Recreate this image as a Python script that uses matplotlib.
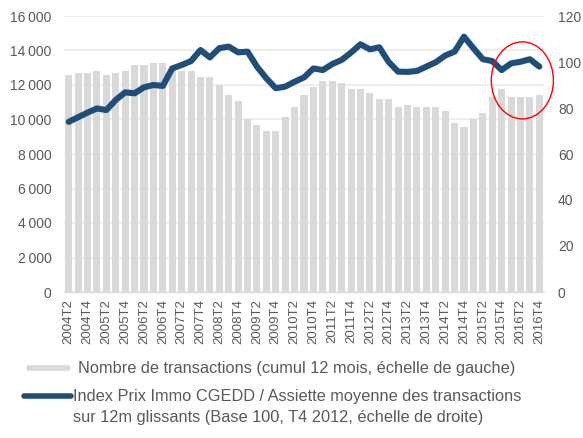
import matplotlib
matplotlib.use("Agg")
import matplotlib.pyplot as plt
from matplotlib.lines import Line2D
from matplotlib.patches import Ellipse

plt.rcParams['font.family'] = ['Liberation Sans', 'DejaVu Sans']

# quarters 2004T2 .. 2016T4
quarters = []
for yr in range(2004, 2017):
    for q in range(1, 5):
        if yr == 2004 and q == 1:
            continue
        quarters.append(f"{yr}T{q}")

# number of transactions (rolling 12 months, left axis)
transactions = [12600, 12700, 12700, 12800, 12600, 12700, 12800, 13150, 13150, 13280,
                13280, 13100, 12800, 12800, 12450, 12450, 12000, 11420, 11070, 10030,
                9680, 9330, 9330, 10140, 10720, 11420, 11880, 12230, 12230, 12120,
                11770, 11770, 11540, 11190, 11190, 10720, 10840, 10720, 10720, 10720,
                10490, 9800, 9570, 10030, 10380, 11300, 11770, 11300, 11300, 11300,
                11420]

# price index / mean transaction base (base 100 = T4 2012, right axis)
index_values = [74.0, 76.0, 78.0, 79.8, 79.1, 83.5, 86.8, 86.4, 89.0, 90.0,
                89.6, 97.2, 98.7, 100.4, 105.2, 102.0, 106.0, 106.7, 104.2, 104.5,
                98.0, 92.9, 88.6, 89.3, 91.4, 93.3, 97.2, 96.5, 99.1, 100.9,
                104.1, 107.7, 105.5, 106.4, 100.0, 95.8, 95.7, 96.1, 98.0, 99.9,
                102.8, 104.5, 111.0, 106.0, 101.2, 100.4, 96.5, 99.4, 100.1, 101.2,
                98.0]

left_ticks = [0, 2000, 4000, 6000, 8000, 10000, 12000, 14000, 16000]
right_ticks = [0, 20, 40, 60, 80, 100, 120]

bar_label = "Nombre de transactions (cumul 12 mois, échelle de gauche)"
line_label = ("Index Prix Immo CGEDD / Assiette moyenne des transactions\n"
              "sur 12m glissants (Base 100, T4 2012, échelle de droite)")

bar_color = '#d9d9d9'
line_color = '#1f4e79'
text_color = '#595959'

W, H = 583, 438
fig = plt.figure(figsize=(W / 100, H / 100), dpi=100)
ax = fig.add_axes([64 / W, 1 - 292 / H, 480 / W, 276 / H])
ax2 = ax.twinx()

x = list(range(len(quarters)))
ax.bar(x, transactions, width=0.75, color=bar_color, zorder=2)
ax.set_xlim(-0.5, len(quarters) - 0.5)
ax.set_ylim(0, 16000)
ax.set_yticks(left_ticks)
ax.set_yticklabels([f"{v:,}".replace(",", "\u2009") for v in left_ticks])
ax.yaxis.grid(True, color='#ebebeb', linewidth=1.2, zorder=0)
ax.set_axisbelow(True)
ax.set_xticks(x[::2])
ax.set_xticklabels(quarters[::2], rotation=90)
ax.tick_params(axis='x', length=0, pad=5, labelsize=9.5, labelcolor=text_color)
ax.tick_params(axis='y', length=0, pad=9, labelsize=10, labelcolor=text_color)

ax2.plot(x, index_values, color=line_color, linewidth=4.4,
         solid_joinstyle='round', solid_capstyle='round', zorder=3)
ax2.set_ylim(0, 120)
ax2.set_yticks(right_ticks)
ax2.tick_params(axis='y', length=0, pad=10, labelsize=10, labelcolor=text_color)

for a in (ax, ax2):
    for side in ('top', 'left', 'right'):
        a.spines[side].set_visible(False)
    a.spines['bottom'].set_color('#d9d9d9')
ax2.spines['bottom'].set_visible(False)

# red circle around the last quarters
ax2.add_patch(Ellipse((48.2, 92), width=6.6, height=33.5, fill=False,
                      edgecolor='red', linewidth=1, clip_on=False, zorder=5))

# legend drawn by hand below the chart
fig.add_artist(Line2D([27 / W, 70 / W], [1 - 368 / H] * 2, color=bar_color,
                      linewidth=4, solid_capstyle='butt'))
fig.text(78 / W, 1 - 368 / H, bar_label, fontsize=11.8, color=text_color,
         va='center', ha='left')
fig.add_artist(Line2D([24 / W, 71 / W], [1 - 396 / H] * 2, color=line_color,
                      linewidth=4, solid_capstyle='round'))
fig.text(73 / W, 1 - 407 / H, line_label, fontsize=11.8, color=text_color,
         va='center', ha='left', linespacing=1.45)

fig.savefig("out.png", dpi=100)
